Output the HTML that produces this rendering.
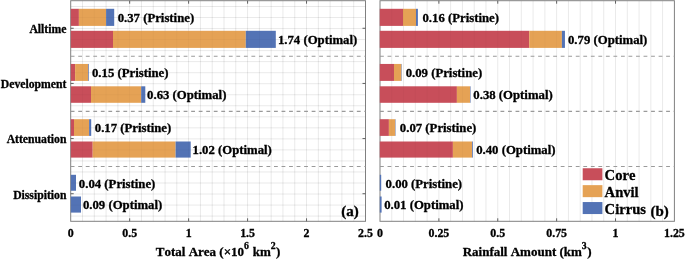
<!DOCTYPE html>
<html><head><meta charset="utf-8"><style>
html,body{margin:0;padding:0;background:#fff;width:685px;height:259px;overflow:hidden}
text{stroke:#000;stroke-width:0.3px;font-kerning:none}
body{position:relative}
</style></head><body>
<svg width="685" height="259" viewBox="0 0 685 259" style="position:absolute;left:0;top:0;filter:blur(0.4px)" font-family='"Liberation Serif", serif' font-weight="bold" fill="#000"><rect width="685" height="259" fill="#fff"/><path d="M82.49 0.70V221.30M94.28 0.70V221.30M106.08 0.70V221.30M117.87 0.70V221.30M129.66 0.70V221.30M141.45 0.70V221.30M153.24 0.70V221.30M165.04 0.70V221.30M176.83 0.70V221.30M188.62 0.70V221.30M200.41 0.70V221.30M212.20 0.70V221.30M224.00 0.70V221.30M235.79 0.70V221.30M247.58 0.70V221.30M259.37 0.70V221.30M271.16 0.70V221.30M282.96 0.70V221.30M294.75 0.70V221.30M306.54 0.70V221.30M318.33 0.70V221.30M330.12 0.70V221.30M341.92 0.70V221.30M353.71 0.70V221.30M70.70 6.51H365.50M70.70 17.55H365.50M70.70 28.58H365.50M70.70 39.61H365.50M70.70 50.63H365.50M70.70 61.67H365.50M70.70 72.70H365.50M70.70 83.73H365.50M70.70 94.76H365.50M70.70 105.79H365.50M70.70 116.82H365.50M70.70 127.85H365.50M70.70 138.88H365.50M70.70 149.91H365.50M70.70 160.94H365.50M70.70 171.97H365.50M70.70 183.00H365.50M70.70 194.03H365.50M70.70 205.06H365.50M70.70 216.09H365.50" stroke="rgba(0,0,0,0.066)" stroke-width="1" fill="none"/><rect x="70.70" y="0.70" width="294.80" height="220.60" fill="none" stroke="#808080" stroke-width="1"/><rect x="70.80" y="8.80" width="8.10" height="17.10" fill="#C84E5A"/><rect x="78.90" y="8.80" width="27.20" height="17.10" fill="#E5A255"/><rect x="106.10" y="8.80" width="8.10" height="17.10" fill="#5373B5"/><rect x="70.80" y="30.80" width="42.20" height="17.10" fill="#C84E5A"/><rect x="113.00" y="30.80" width="132.80" height="17.10" fill="#E5A255"/><rect x="245.80" y="30.80" width="30.00" height="17.10" fill="#5373B5"/><rect x="70.80" y="63.95" width="4.30" height="16.95" fill="#C84E5A"/><rect x="75.10" y="63.95" width="13.10" height="16.95" fill="#E5A255"/><rect x="88.20" y="63.95" width="0.70" height="16.95" fill="#5373B5"/><rect x="70.80" y="86.30" width="20.20" height="16.50" fill="#C84E5A"/><rect x="91.00" y="86.30" width="50.20" height="16.50" fill="#E5A255"/><rect x="141.20" y="86.30" width="4.10" height="16.50" fill="#5373B5"/><rect x="70.80" y="119.20" width="3.20" height="16.70" fill="#C84E5A"/><rect x="74.00" y="119.20" width="15.10" height="16.70" fill="#E5A255"/><rect x="89.10" y="119.20" width="2.10" height="16.70" fill="#5373B5"/><rect x="70.80" y="141.50" width="21.90" height="16.10" fill="#C84E5A"/><rect x="92.70" y="141.50" width="82.90" height="16.10" fill="#E5A255"/><rect x="175.60" y="141.50" width="15.10" height="16.10" fill="#5373B5"/><rect x="70.80" y="174.80" width="5.20" height="15.95" fill="#5373B5"/><rect x="70.80" y="196.50" width="10.20" height="16.10" fill="#5373B5"/><path d="M82.49 0.70V221.30M94.28 0.70V221.30M106.08 0.70V221.30M117.87 0.70V221.30M129.66 0.70V221.30M141.45 0.70V221.30M153.24 0.70V221.30M165.04 0.70V221.30M176.83 0.70V221.30M188.62 0.70V221.30M200.41 0.70V221.30M212.20 0.70V221.30M224.00 0.70V221.30M235.79 0.70V221.30M247.58 0.70V221.30M259.37 0.70V221.30M271.16 0.70V221.30M282.96 0.70V221.30M294.75 0.70V221.30M306.54 0.70V221.30M318.33 0.70V221.30M330.12 0.70V221.30M341.92 0.70V221.30M353.71 0.70V221.30M70.70 6.51H365.50M70.70 17.55H365.50M70.70 28.58H365.50M70.70 39.61H365.50M70.70 50.63H365.50M70.70 61.67H365.50M70.70 72.70H365.50M70.70 83.73H365.50M70.70 94.76H365.50M70.70 105.79H365.50M70.70 116.82H365.50M70.70 127.85H365.50M70.70 138.88H365.50M70.70 149.91H365.50M70.70 160.94H365.50M70.70 171.97H365.50M70.70 183.00H365.50M70.70 194.03H365.50M70.70 205.06H365.50M70.70 216.09H365.50" stroke="rgba(0,0,0,0.025)" stroke-width="1" fill="none"/><line x1="70.70" y1="56.20" x2="365.50" y2="56.20" stroke="#9a9a9a" stroke-width="1.1" stroke-dasharray="3.8 3.73"/><line x1="70.70" y1="111.35" x2="365.50" y2="111.35" stroke="#9a9a9a" stroke-width="1.1" stroke-dasharray="3.8 3.73"/><line x1="70.70" y1="166.50" x2="365.50" y2="166.50" stroke="#9a9a9a" stroke-width="1.1" stroke-dasharray="3.8 3.73"/><path d="M129.66 221.30v-3M129.66 0.70v3M188.62 221.30v-3M188.62 0.70v3M247.58 221.30v-3M247.58 0.70v3M306.54 221.30v-3M306.54 0.70v3M70.70 28.28h3M365.50 28.28h-3M70.70 83.43h3M365.50 83.43h-3M70.70 138.57h3M365.50 138.57h-3M70.70 193.73h3M365.50 193.73h-3" stroke="#606060" stroke-width="1" fill="none"/><text x="117.67" y="22.15" font-size="12.75">0.37 (Pristine)</text><text x="277.93" y="44.15" font-size="12.75">1.74 (Optimal)</text><text x="91.97" y="77.23" font-size="12.75">0.15 (Pristine)</text><text x="147.07" y="99.35" font-size="12.75">0.63 (Optimal)</text><text x="94.77" y="132.35" font-size="12.75">0.17 (Pristine)</text><text x="192.53" y="154.35" font-size="12.75">1.02 (Optimal)</text><text x="78.87" y="187.58" font-size="12.75">0.04 (Pristine)</text><text x="82.92" y="209.35" font-size="12.75">0.09 (Optimal)</text><text x="70.70" y="237.4" font-size="11.9" text-anchor="middle">0</text><text x="129.66" y="237.4" font-size="11.9" text-anchor="middle">0.5</text><text x="188.62" y="237.4" font-size="11.9" text-anchor="middle">1</text><text x="247.58" y="237.4" font-size="11.9" text-anchor="middle">1.5</text><text x="306.54" y="237.4" font-size="11.9" text-anchor="middle">2</text><text x="365.50" y="237.4" font-size="11.9" text-anchor="middle">2.5</text><text x="341.20" y="216.1" font-size="15.0">(a)</text><path d="M391.78 0.70V221.30M403.55 0.70V221.30M415.33 0.70V221.30M427.10 0.70V221.30M438.88 0.70V221.30M450.66 0.70V221.30M462.43 0.70V221.30M474.21 0.70V221.30M485.98 0.70V221.30M497.76 0.70V221.30M509.54 0.70V221.30M521.31 0.70V221.30M533.09 0.70V221.30M544.86 0.70V221.30M556.64 0.70V221.30M568.42 0.70V221.30M580.19 0.70V221.30M591.97 0.70V221.30M603.74 0.70V221.30M615.52 0.70V221.30M627.30 0.70V221.30M639.07 0.70V221.30M650.85 0.70V221.30M662.62 0.70V221.30" stroke="rgba(0,0,0,0.066)" stroke-width="1" fill="none"/><rect x="380.00" y="0.70" width="294.40" height="220.60" fill="none" stroke="#808080" stroke-width="1"/><rect x="379.80" y="8.80" width="23.20" height="17.10" fill="#C84E5A"/><rect x="403.00" y="8.80" width="13.00" height="17.10" fill="#E5A255"/><rect x="416.00" y="8.80" width="1.90" height="17.10" fill="#5373B5"/><rect x="379.80" y="30.80" width="149.40" height="17.10" fill="#C84E5A"/><rect x="529.20" y="30.80" width="32.70" height="17.10" fill="#E5A255"/><rect x="561.90" y="30.80" width="3.05" height="17.10" fill="#5373B5"/><rect x="379.80" y="63.95" width="14.20" height="16.95" fill="#C84E5A"/><rect x="394.00" y="63.95" width="7.40" height="16.95" fill="#E5A255"/><rect x="401.40" y="63.95" width="0.40" height="16.95" fill="#5373B5"/><rect x="379.80" y="86.30" width="77.10" height="16.50" fill="#C84E5A"/><rect x="456.90" y="86.30" width="13.20" height="16.50" fill="#E5A255"/><rect x="470.10" y="86.30" width="0.50" height="16.50" fill="#5373B5"/><rect x="379.80" y="119.20" width="9.10" height="16.70" fill="#C84E5A"/><rect x="388.90" y="119.20" width="6.30" height="16.70" fill="#E5A255"/><rect x="395.20" y="119.20" width="0.40" height="16.70" fill="#5373B5"/><rect x="379.80" y="141.50" width="73.10" height="16.10" fill="#C84E5A"/><rect x="452.90" y="141.50" width="19.20" height="16.10" fill="#E5A255"/><rect x="472.10" y="141.50" width="0.80" height="16.10" fill="#5373B5"/><rect x="379.80" y="174.80" width="1.40" height="15.95" fill="#5373B5"/><rect x="379.80" y="196.50" width="1.80" height="16.10" fill="#5373B5"/><path d="M391.78 0.70V221.30M403.55 0.70V221.30M415.33 0.70V221.30M427.10 0.70V221.30M438.88 0.70V221.30M450.66 0.70V221.30M462.43 0.70V221.30M474.21 0.70V221.30M485.98 0.70V221.30M497.76 0.70V221.30M509.54 0.70V221.30M521.31 0.70V221.30M533.09 0.70V221.30M544.86 0.70V221.30M556.64 0.70V221.30M568.42 0.70V221.30M580.19 0.70V221.30M591.97 0.70V221.30M603.74 0.70V221.30M615.52 0.70V221.30M627.30 0.70V221.30M639.07 0.70V221.30M650.85 0.70V221.30M662.62 0.70V221.30" stroke="rgba(0,0,0,0.025)" stroke-width="1" fill="none"/><line x1="380.00" y1="56.20" x2="674.40" y2="56.20" stroke="#9a9a9a" stroke-width="1.1" stroke-dasharray="3.8 3.73"/><line x1="380.00" y1="111.35" x2="674.40" y2="111.35" stroke="#9a9a9a" stroke-width="1.1" stroke-dasharray="3.8 3.73"/><line x1="380.00" y1="166.50" x2="674.40" y2="166.50" stroke="#9a9a9a" stroke-width="1.1" stroke-dasharray="3.8 3.73"/><path d="M438.88 221.30v-3M438.88 0.70v3M497.76 221.30v-3M497.76 0.70v3M556.64 221.30v-3M556.64 0.70v3M615.52 221.30v-3M615.52 0.70v3" stroke="#606060" stroke-width="1" fill="none"/><text x="422.47" y="22.15" font-size="12.75">0.16 (Pristine)</text><text x="567.97" y="44.15" font-size="12.75">0.79 (Optimal)</text><text x="405.67" y="77.23" font-size="12.75">0.09 (Pristine)</text><text x="473.37" y="99.35" font-size="12.75">0.38 (Optimal)</text><text x="399.87" y="132.35" font-size="12.75">0.07 (Pristine)</text><text x="476.17" y="154.35" font-size="12.75">0.40 (Optimal)</text><text x="385.57" y="187.58" font-size="12.75">0.00 (Pristine)</text><text x="384.17" y="209.35" font-size="12.75">0.01 (Optimal)</text><text x="380.00" y="237.4" font-size="11.9" text-anchor="middle">0</text><text x="438.88" y="237.4" font-size="11.9" text-anchor="middle">0.25</text><text x="497.76" y="237.4" font-size="11.9" text-anchor="middle">0.5</text><text x="556.64" y="237.4" font-size="11.9" text-anchor="middle">0.75</text><text x="615.52" y="237.4" font-size="11.9" text-anchor="middle">1</text><text x="674.40" y="237.4" font-size="11.9" text-anchor="middle">1.25</text><text x="650.40" y="216.1" font-size="15.0">(b)</text><text x="66.4" y="33.08" font-size="11.7" text-anchor="end">Alltime</text><text x="66.4" y="88.23" font-size="11.7" text-anchor="end">Development</text><text x="66.4" y="143.38" font-size="11.7" text-anchor="end">Attenuation</text><text x="66.4" y="198.53" font-size="11.7" text-anchor="end">Dissipition</text><text x="218.1" y="255.6" font-size="13.0" text-anchor="middle">Total Area (×10<tspan font-size="9.8" dy="-6.8">6</tspan><tspan dy="6.8" dx="0.5"> km</tspan><tspan font-size="9.8" dy="-6.8">2</tspan><tspan dy="6.8" dx="0.4">)</tspan></text><text x="527.1" y="255.6" font-size="13.0" text-anchor="middle">Rainfall Amount (km<tspan font-size="9.8" dy="-6.8">3</tspan><tspan dy="6.8" dx="0.4">)</tspan></text><rect x="582.7" y="168.25" width="19.7" height="12" fill="#C84E5A"/><text x="604.6" y="180.15" font-size="14.6">Core</text><rect x="582.7" y="185.15" width="19.7" height="12" fill="#E5A255"/><text x="604.6" y="197.05" font-size="14.6">Anvil</text><rect x="582.7" y="202.05" width="19.7" height="12" fill="#5373B5"/><text x="604.6" y="213.95" font-size="14.6">Cirrus</text></svg>
</body></html>
